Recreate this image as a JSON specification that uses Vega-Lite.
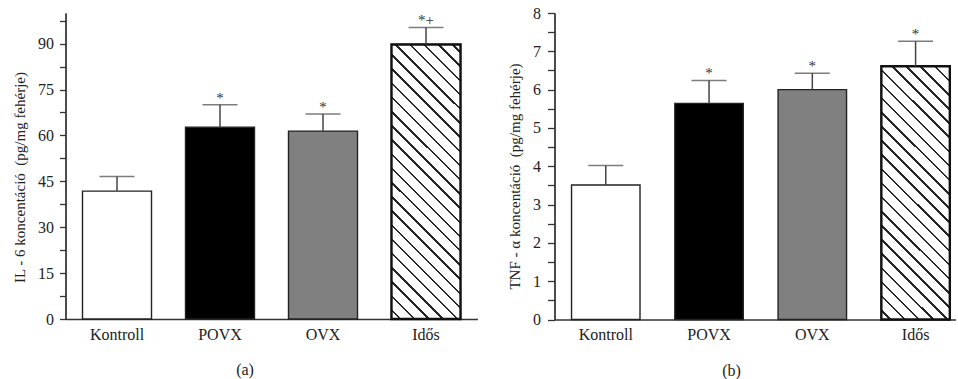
{
  "$schema": "https://vega.github.io/schema/vega-lite/v6.json",
  "background": "#ffffff",
  "padding": {"left": 12.5, "top": 5, "right": 0, "bottom": 0},
  "datasets": {
    "il6": [
      {"group": "Kontroll", "mean": 41.8, "upper": 46.6, "sig": ""},
      {"group": "POVX", "mean": 62.7, "upper": 70.0, "sig": "*"},
      {"group": "OVX", "mean": 61.4, "upper": 67.0, "sig": "*"},
      {"group": "Idős", "mean": 89.7, "upper": 95.3, "sig": "*+"}
    ],
    "tnf": [
      {"group": "Kontroll", "mean": 3.51, "upper": 4.02, "sig": ""},
      {"group": "POVX", "mean": 5.64, "upper": 6.24, "sig": "*"},
      {"group": "OVX", "mean": 6.0, "upper": 6.43, "sig": "*"},
      {"group": "Idős", "mean": 6.61, "upper": 7.26, "sig": "*"}
    ]
  },
  "hconcat": [
    {
      "width": 412,
      "height": 306,
      "title": {"text": "(a)", "orient": "bottom", "frame": "bounds", "offset": 20},
      "data": {"name": "il6"},
      "resolve": {"axis": {"y": "independent"}},
      "encoding": {
        "x": {
          "field": "group", "type": "nominal", "sort": null,
          "scale": {"paddingInner": 0.33, "paddingOuter": 0.165},
          "axis": {"title": null, "labelAngle": 0, "ticks": false, "labelPadding": 7}
        }
      },
      "layer": [
        {
          "mark": {"type": "bar", "stroke": "#222222", "strokeWidth": 1.4},
          "encoding": {
            "y": {
              "field": "mean", "type": "quantitative",
              "scale": {"domain": [0, 100], "nice": false},
              "axis": {
                "orient": "left", "title": null, "labels": false,
                "values": [7.5, 22.5, 37.5, 52.5, 67.5, 82.5, 97.5],
                "tickSize": 6
              }
            },
            "fill": {
              "field": "group", "type": "nominal",
              "scale": {"domain": ["Kontroll", "POVX", "OVX", "Idős"], "range": ["#ffffff", "#000000", "#808080", "#ffffff"]},
              "legend": null
            }
          }
        },
        {
          "transform": [{"filter": "datum.group === 'Idős'"}],
          "mark": {
            "type": "bar", "stroke": "#111111", "strokeWidth": 2.4,
            "fill": {
              "gradient": "linear", "x1": 0, "y1": 1, "x2": 0.2959, "y2": -0.177,
              "stops": [
                {"offset": 0, "color": "#ffffff"},
                {"offset": 0.0224, "color": "#ffffff"}, {"offset": 0.0224, "color": "#262626"}, {"offset": 0.0300, "color": "#262626"}, {"offset": 0.0300, "color": "#ffffff"},
                {"offset": 0.0637, "color": "#ffffff"}, {"offset": 0.0637, "color": "#262626"}, {"offset": 0.0713, "color": "#262626"}, {"offset": 0.0713, "color": "#ffffff"},
                {"offset": 0.1051, "color": "#ffffff"}, {"offset": 0.1051, "color": "#262626"}, {"offset": 0.1127, "color": "#262626"}, {"offset": 0.1127, "color": "#ffffff"},
                {"offset": 0.1464, "color": "#ffffff"}, {"offset": 0.1464, "color": "#262626"}, {"offset": 0.1540, "color": "#262626"}, {"offset": 0.1540, "color": "#ffffff"},
                {"offset": 0.1878, "color": "#ffffff"}, {"offset": 0.1878, "color": "#262626"}, {"offset": 0.1954, "color": "#262626"}, {"offset": 0.1954, "color": "#ffffff"},
                {"offset": 0.2291, "color": "#ffffff"}, {"offset": 0.2291, "color": "#262626"}, {"offset": 0.2367, "color": "#262626"}, {"offset": 0.2367, "color": "#ffffff"},
                {"offset": 0.2704, "color": "#ffffff"}, {"offset": 0.2704, "color": "#262626"}, {"offset": 0.2780, "color": "#262626"}, {"offset": 0.2780, "color": "#ffffff"},
                {"offset": 0.3118, "color": "#ffffff"}, {"offset": 0.3118, "color": "#262626"}, {"offset": 0.3194, "color": "#262626"}, {"offset": 0.3194, "color": "#ffffff"},
                {"offset": 0.3531, "color": "#ffffff"}, {"offset": 0.3531, "color": "#262626"}, {"offset": 0.3607, "color": "#262626"}, {"offset": 0.3607, "color": "#ffffff"},
                {"offset": 0.3945, "color": "#ffffff"}, {"offset": 0.3945, "color": "#262626"}, {"offset": 0.4021, "color": "#262626"}, {"offset": 0.4021, "color": "#ffffff"},
                {"offset": 0.4358, "color": "#ffffff"}, {"offset": 0.4358, "color": "#262626"}, {"offset": 0.4434, "color": "#262626"}, {"offset": 0.4434, "color": "#ffffff"},
                {"offset": 0.4771, "color": "#ffffff"}, {"offset": 0.4771, "color": "#262626"}, {"offset": 0.4847, "color": "#262626"}, {"offset": 0.4847, "color": "#ffffff"},
                {"offset": 0.5185, "color": "#ffffff"}, {"offset": 0.5185, "color": "#262626"}, {"offset": 0.5261, "color": "#262626"}, {"offset": 0.5261, "color": "#ffffff"},
                {"offset": 0.5598, "color": "#ffffff"}, {"offset": 0.5598, "color": "#262626"}, {"offset": 0.5674, "color": "#262626"}, {"offset": 0.5674, "color": "#ffffff"},
                {"offset": 0.6012, "color": "#ffffff"}, {"offset": 0.6012, "color": "#262626"}, {"offset": 0.6088, "color": "#262626"}, {"offset": 0.6088, "color": "#ffffff"},
                {"offset": 0.6425, "color": "#ffffff"}, {"offset": 0.6425, "color": "#262626"}, {"offset": 0.6501, "color": "#262626"}, {"offset": 0.6501, "color": "#ffffff"},
                {"offset": 0.6838, "color": "#ffffff"}, {"offset": 0.6838, "color": "#262626"}, {"offset": 0.6914, "color": "#262626"}, {"offset": 0.6914, "color": "#ffffff"},
                {"offset": 0.7252, "color": "#ffffff"}, {"offset": 0.7252, "color": "#262626"}, {"offset": 0.7328, "color": "#262626"}, {"offset": 0.7328, "color": "#ffffff"},
                {"offset": 0.7665, "color": "#ffffff"}, {"offset": 0.7665, "color": "#262626"}, {"offset": 0.7741, "color": "#262626"}, {"offset": 0.7741, "color": "#ffffff"},
                {"offset": 0.8079, "color": "#ffffff"}, {"offset": 0.8079, "color": "#262626"}, {"offset": 0.8155, "color": "#262626"}, {"offset": 0.8155, "color": "#ffffff"},
                {"offset": 0.8492, "color": "#ffffff"}, {"offset": 0.8492, "color": "#262626"}, {"offset": 0.8568, "color": "#262626"}, {"offset": 0.8568, "color": "#ffffff"},
                {"offset": 0.8905, "color": "#ffffff"}, {"offset": 0.8905, "color": "#262626"}, {"offset": 0.8981, "color": "#262626"}, {"offset": 0.8981, "color": "#ffffff"},
                {"offset": 0.9319, "color": "#ffffff"}, {"offset": 0.9319, "color": "#262626"}, {"offset": 0.9395, "color": "#262626"}, {"offset": 0.9395, "color": "#ffffff"},
                {"offset": 0.9732, "color": "#ffffff"}, {"offset": 0.9732, "color": "#262626"}, {"offset": 0.9808, "color": "#262626"}, {"offset": 0.9808, "color": "#ffffff"},
                {"offset": 1, "color": "#ffffff"}
              ]
            }
          },
          "encoding": {"y": {"field": "mean", "type": "quantitative", "axis": null}}
        },
        {
          "mark": {"type": "rule", "color": "#444444", "strokeWidth": 1.5},
          "encoding": {
            "y": {
              "field": "mean", "type": "quantitative",
              "axis": {
                "orient": "left",
                "title": "IL - 6 koncentáció\u00a0 (pg/mg fehérje)",
                "values": [0, 15, 30, 45, 60, 75, 90],
                "tickSize": 6, "labelPadding": 6, "titlePadding": 10, "titleY": 164
              }
            },
            "y2": {"field": "upper"}
          }
        },
        {
          "mark": {"type": "tick", "color": "#444444", "size": 35, "thickness": 1.5},
          "encoding": {"y": {"field": "upper", "type": "quantitative", "axis": null}}
        },
        {
          "mark": {"type": "text", "font": "Liberation Serif", "fontSize": 15, "color": "#333333", "baseline": "alphabetic", "dy": -2},
          "encoding": {
            "y": {"field": "upper", "type": "quantitative", "axis": null},
            "text": {"field": "sig"}
          }
        }
      ]
    },
    {
      "width": 401,
      "height": 306.5,
      "title": {"text": "(b)", "orient": "bottom", "frame": "bounds", "offset": 20},
      "data": {"name": "tnf"},
      "resolve": {"axis": {"y": "independent"}},
      "encoding": {
        "x": {
          "field": "group", "type": "nominal", "sort": null,
          "scale": {"paddingInner": 0.337, "paddingOuter": 0.11, "align": 0.75},
          "axis": {"title": null, "labelAngle": 0, "ticks": false, "labelPadding": 7}
        }
      },
      "layer": [
        {
          "mark": {"type": "bar", "stroke": "#222222", "strokeWidth": 1.4},
          "encoding": {
            "y": {
              "field": "mean", "type": "quantitative",
              "scale": {"domain": [0, 8], "nice": false},
              "axis": {
                "orient": "left", "title": null, "labels": false,
                "values": [0.5, 1.5, 2.5, 3.5, 4.5, 5.5, 6.5, 7.5],
                "tickSize": 7
              }
            },
            "fill": {
              "field": "group", "type": "nominal",
              "scale": {"domain": ["Kontroll", "POVX", "OVX", "Idős"], "range": ["#ffffff", "#000000", "#808080", "#ffffff"]},
              "legend": null
            }
          }
        },
        {
          "transform": [{"filter": "datum.group === 'Idős'"}],
          "mark": {
            "type": "bar", "stroke": "#111111", "strokeWidth": 2.4,
            "fill": {
              "gradient": "linear", "x1": 0, "y1": 1, "x2": 0.3189, "y2": -0.1835,
              "stops": [
                {"offset": 0, "color": "#ffffff"},
                {"offset": 0.0249, "color": "#ffffff"}, {"offset": 0.0249, "color": "#262626"}, {"offset": 0.0329, "color": "#262626"}, {"offset": 0.0329, "color": "#ffffff"},
                {"offset": 0.0689, "color": "#ffffff"}, {"offset": 0.0689, "color": "#262626"}, {"offset": 0.0769, "color": "#262626"}, {"offset": 0.0769, "color": "#ffffff"},
                {"offset": 0.1129, "color": "#ffffff"}, {"offset": 0.1129, "color": "#262626"}, {"offset": 0.1209, "color": "#262626"}, {"offset": 0.1209, "color": "#ffffff"},
                {"offset": 0.1569, "color": "#ffffff"}, {"offset": 0.1569, "color": "#262626"}, {"offset": 0.1649, "color": "#262626"}, {"offset": 0.1649, "color": "#ffffff"},
                {"offset": 0.2009, "color": "#ffffff"}, {"offset": 0.2009, "color": "#262626"}, {"offset": 0.2089, "color": "#262626"}, {"offset": 0.2089, "color": "#ffffff"},
                {"offset": 0.2449, "color": "#ffffff"}, {"offset": 0.2449, "color": "#262626"}, {"offset": 0.2529, "color": "#262626"}, {"offset": 0.2529, "color": "#ffffff"},
                {"offset": 0.2889, "color": "#ffffff"}, {"offset": 0.2889, "color": "#262626"}, {"offset": 0.2969, "color": "#262626"}, {"offset": 0.2969, "color": "#ffffff"},
                {"offset": 0.3329, "color": "#ffffff"}, {"offset": 0.3329, "color": "#262626"}, {"offset": 0.3409, "color": "#262626"}, {"offset": 0.3409, "color": "#ffffff"},
                {"offset": 0.3769, "color": "#ffffff"}, {"offset": 0.3769, "color": "#262626"}, {"offset": 0.3849, "color": "#262626"}, {"offset": 0.3849, "color": "#ffffff"},
                {"offset": 0.4209, "color": "#ffffff"}, {"offset": 0.4209, "color": "#262626"}, {"offset": 0.4289, "color": "#262626"}, {"offset": 0.4289, "color": "#ffffff"},
                {"offset": 0.4649, "color": "#ffffff"}, {"offset": 0.4649, "color": "#262626"}, {"offset": 0.4729, "color": "#262626"}, {"offset": 0.4729, "color": "#ffffff"},
                {"offset": 0.5089, "color": "#ffffff"}, {"offset": 0.5089, "color": "#262626"}, {"offset": 0.5169, "color": "#262626"}, {"offset": 0.5169, "color": "#ffffff"},
                {"offset": 0.5529, "color": "#ffffff"}, {"offset": 0.5529, "color": "#262626"}, {"offset": 0.5609, "color": "#262626"}, {"offset": 0.5609, "color": "#ffffff"},
                {"offset": 0.5969, "color": "#ffffff"}, {"offset": 0.5969, "color": "#262626"}, {"offset": 0.6049, "color": "#262626"}, {"offset": 0.6049, "color": "#ffffff"},
                {"offset": 0.6409, "color": "#ffffff"}, {"offset": 0.6409, "color": "#262626"}, {"offset": 0.6489, "color": "#262626"}, {"offset": 0.6489, "color": "#ffffff"},
                {"offset": 0.6849, "color": "#ffffff"}, {"offset": 0.6849, "color": "#262626"}, {"offset": 0.6929, "color": "#262626"}, {"offset": 0.6929, "color": "#ffffff"},
                {"offset": 0.7289, "color": "#ffffff"}, {"offset": 0.7289, "color": "#262626"}, {"offset": 0.7369, "color": "#262626"}, {"offset": 0.7369, "color": "#ffffff"},
                {"offset": 0.7729, "color": "#ffffff"}, {"offset": 0.7729, "color": "#262626"}, {"offset": 0.7809, "color": "#262626"}, {"offset": 0.7809, "color": "#ffffff"},
                {"offset": 0.8169, "color": "#ffffff"}, {"offset": 0.8169, "color": "#262626"}, {"offset": 0.8249, "color": "#262626"}, {"offset": 0.8249, "color": "#ffffff"},
                {"offset": 0.8609, "color": "#ffffff"}, {"offset": 0.8609, "color": "#262626"}, {"offset": 0.8689, "color": "#262626"}, {"offset": 0.8689, "color": "#ffffff"},
                {"offset": 0.9049, "color": "#ffffff"}, {"offset": 0.9049, "color": "#262626"}, {"offset": 0.9129, "color": "#262626"}, {"offset": 0.9129, "color": "#ffffff"},
                {"offset": 0.9489, "color": "#ffffff"}, {"offset": 0.9489, "color": "#262626"}, {"offset": 0.9569, "color": "#262626"}, {"offset": 0.9569, "color": "#ffffff"},
                {"offset": 0.9929, "color": "#ffffff"}, {"offset": 0.9929, "color": "#262626"}, {"offset": 1, "color": "#262626"}
              ]
            }
          },
          "encoding": {"y": {"field": "mean", "type": "quantitative", "axis": null}}
        },
        {
          "mark": {"type": "rule", "color": "#444444", "strokeWidth": 1.5},
          "encoding": {
            "y": {
              "field": "mean", "type": "quantitative",
              "axis": {
                "orient": "left",
                "title": "TNF - α koncentáció\u00a0 (pg/mg fehérje)",
                "values": [0, 1, 2, 3, 4, 5, 6, 7, 8],
                "tickSize": 7, "labelPadding": 7, "titlePadding": 10, "titleY": 163
              }
            },
            "y2": {"field": "upper"}
          }
        },
        {
          "mark": {"type": "tick", "color": "#444444", "size": 35, "thickness": 1.5},
          "encoding": {"y": {"field": "upper", "type": "quantitative", "axis": null}}
        },
        {
          "mark": {"type": "text", "font": "Liberation Serif", "fontSize": 15, "color": "#333333", "baseline": "alphabetic", "dy": -2},
          "encoding": {
            "y": {"field": "upper", "type": "quantitative", "axis": null},
            "text": {"field": "sig"}
          }
        }
      ]
    }
  ],
  "spacing": 77,
  "bounds": "flush",
  "config": {
    "view": {"stroke": null},
    "axis": {
      "grid": false,
      "domainColor": "#333333",
      "domainWidth": 1.3,
      "tickColor": "#333333",
      "tickWidth": 1.3,
      "labelFont": "Liberation Serif",
      "labelFontSize": 16,
      "labelColor": "#222222",
      "titleFont": "Liberation Serif",
      "titleFontSize": 15,
      "titleFontWeight": "normal",
      "titleColor": "#222222"
    },
    "title": {"font": "Liberation Serif", "fontSize": 16, "fontWeight": "normal", "color": "#222222"}
  }
}
